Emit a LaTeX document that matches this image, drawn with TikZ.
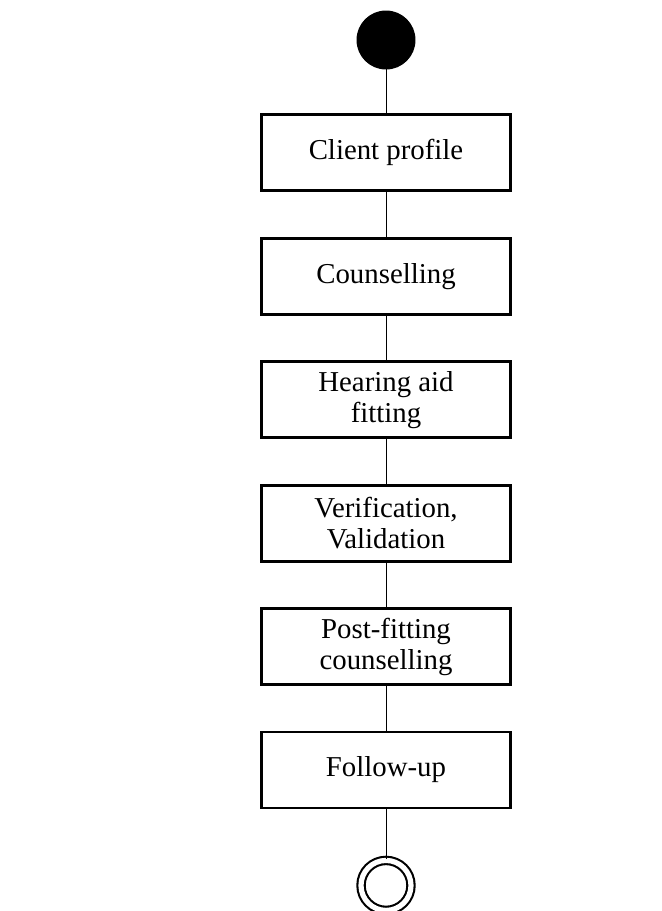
\documentclass[tikz,border=0pt]{standalone}
\usepackage{fontspec}
\setmainfont{Liberation Serif}
\usetikzlibrary{positioning}

\begin{document}
\begin{tikzpicture}[
                    node distance=1.115cm,
                    box/.style={draw, line width=2pt, align=center, minimum width=6.225cm, minimum height=1.9cm, inner sep=2pt, font=\fontsize{20.5}{22}\selectfont},
                    link/.style={line width=0.7pt}
                ]
                \useasboundingbox (0,0) rectangle (16.55,-22.775);

                % --- start and process steps ---
                \node[circle, draw, fill=black, minimum size=1.45cm, line width=0.7pt] (start) at (9.65,-1.0) {};
                \node[box, below=1.1cm of start] (profile) {Client profile};
                \node[box, below=of profile] (counsel) {Counselling};
                \node[box, below=of counsel] (fitting) {Hearing aid\\fitting};
                \node[box, below=of fitting] (verify) {Verification,\\Validation};
                \node[box, below=of verify] (postfit) {Post-fitting\\counselling};
                \node[box, below=of postfit] (followup) {Follow-up};

                % --- end ---
                \node[circle, draw, line width=1.5pt, double, double distance=0.13cm, minimum size=1.25cm, below=1.25cm of followup] (finish) {};

                \draw[link] (start) -- (profile);
                \draw[link] (profile) -- (counsel);
                \draw[link] (counsel) -- (fitting);
                \draw[link] (fitting) -- (verify);
                \draw[link] (verify) -- (postfit);
                \draw[link] (postfit) -- (followup);
                \draw[link] (followup) -- (finish);

\end{tikzpicture}
\end{document}
